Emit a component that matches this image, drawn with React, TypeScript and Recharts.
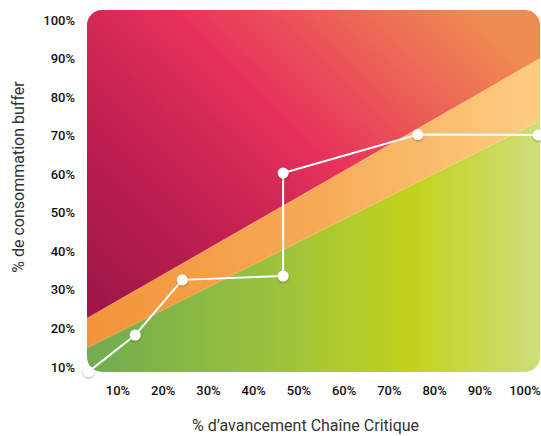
import React from 'react';
import {
  ComposedChart,
  Area,
  Line,
  XAxis,
  YAxis,
  ReferenceArea,
} from 'recharts';

// Axis domains (percent)
const xDomain: [number, number] = [3.14, 103.3];
const yDomain: [number, number] = [8.7, 102.6];

const xTicks = [10, 20, 30, 40, 50, 60, 70, 80, 90, 100];
const yTicks = [10, 20, 30, 40, 50, 60, 70, 80, 90, 100];

// Zone boundaries at the left and right edges of the chart
const zoneX = [3.14, 103.3];
const greenTop = [14.9, 73.8];
const orangeTop = [22.7, 90.1];

// Buffer consumption path
const progress = [3.5, 13.8, 24.2, 46.5, 46.5, 76.3, 102.9];
const consumption = [8.8, 18.3, 32.6, 33.6, 60.3, 70.3, 70.2];

const zoneData = zoneX.map((x, i) => ({
  x,
  green: [yDomain[0], greenTop[i]],
  orange: [greenTop[i], orangeTop[i]],
  red: [orangeTop[i], yDomain[1]],
}));

const pathData = progress.map((x, i) => ({ x, y: consumption[i] }));

const fmt = (v: number) => `${v}%`;

const CornerMask = (props: any) => {
  const { x, y, width, height } = props;
  const r = 15;
  const outer = `M${x},${y}H${x + width}V${y + height}H${x}Z`;
  const inner = `M${x + r},${y}H${x + width - r}A${r},${r} 0 0 1 ${x + width},${y + r}V${y + height - r}A${r},${r} 0 0 1 ${x + width - r},${y + height}H${x + r}A${r},${r} 0 0 1 ${x},${y + height - r}V${y + r}A${r},${r} 0 0 1 ${x + r},${y}Z`;
  return <path d={`${outer}${inner}`} fill="#ffffff" fillRule="evenodd" />;
};

const YLabel = (props: any) => {
  const vb = props.viewBox || {};
  const cx = 18;
  const cy = (vb.y ?? 0) + (vb.height ?? 0) / 2 - 14;
  return (
    <text
      x={cx}
      y={cy}
      transform={`rotate(-90, ${cx}, ${cy})`}
      textAnchor="middle"
      dominantBaseline="central"
      fill="#333"
      fontSize={16}
      fontFamily="Roboto, sans-serif"
    >
      % de consommation buffer
    </text>
  );
};

const tickStyle = { fill: '#111', fontSize: 13, fontWeight: 500, fontFamily: 'Roboto, sans-serif' };

export default function App() {
  return (
    <div style={{ position: 'absolute', left: 0, top: 0, background: '#fff' }}>
      <ComposedChart
        width={541}
        height={436}
        margin={{ top: 10, right: 1, bottom: 0, left: 0 }}
      >
        <defs>
          <linearGradient id="gRed" x1="0" y1="0.9" x2="1" y2="0.2">
            <stop offset="0" stopColor="#9e1747" />
            <stop offset="0.3" stopColor="#c32151" />
            <stop offset="0.55" stopColor="#e6325b" />
            <stop offset="0.8" stopColor="#ec6556" />
            <stop offset="1" stopColor="#ef8d50" />
          </linearGradient>
          <linearGradient id="gOrange" x1="0" y1="0" x2="1" y2="0">
            <stop offset="0" stopColor="#f2943a" />
            <stop offset="0.5" stopColor="#f6aa55" />
            <stop offset="1" stopColor="#fdcd82" />
          </linearGradient>
          <linearGradient id="gGreen" x1="0" y1="0" x2="1" y2="0">
            <stop offset="0" stopColor="#70ac50" />
            <stop offset="0.45" stopColor="#a0c43a" />
            <stop offset="0.72" stopColor="#c2d31c" />
            <stop offset="1" stopColor="#cfdd7c" />
          </linearGradient>
          <filter id="dotShadow" x="-50%" y="-50%" width="200%" height="200%">
            <feDropShadow dx="0" dy="1" stdDeviation="1.2" floodColor="#000" floodOpacity="0.35" />
          </filter>
        </defs>
        <XAxis
          type="number"
          dataKey="x"
          domain={xDomain}
          ticks={xTicks}
          tickFormatter={fmt}
          axisLine={false}
          tickLine={false}
          tickSize={0}
          tickMargin={14}
          height={64}
          tick={tickStyle}
          label={{
            value: "% d’avancement Chaîne Critique",
            position: 'insideBottom',
            offset: 5,
            dx: -8,
            fill: '#333',
            fontSize: 16,
            fontFamily: 'Roboto, sans-serif',
          }}
        />
        <YAxis
          type="number"
          domain={yDomain}
          ticks={yTicks}
          tickFormatter={fmt}
          axisLine={false}
          tickLine={false}
          tickSize={0}
          tickMargin={12}
          width={87}
          tick={tickStyle}
          label={<YLabel />}
        />
        <Area
          data={zoneData}
          dataKey="green"
          type="linear"
          stroke="none"
          fill="url(#gGreen)"
          fillOpacity={1}
          isAnimationActive={false}
          activeDot={false}
        />
        <Area
          data={zoneData}
          dataKey="orange"
          type="linear"
          stroke="none"
          fill="url(#gOrange)"
          fillOpacity={1}
          isAnimationActive={false}
          activeDot={false}
        />
        <Area
          data={zoneData}
          dataKey="red"
          type="linear"
          stroke="none"
          fill="url(#gRed)"
          fillOpacity={1}
          isAnimationActive={false}
          activeDot={false}
        />
        <ReferenceArea
          x1={xDomain[0]}
          x2={xDomain[1]}
          y1={yDomain[0]}
          y2={yDomain[1]}
          shape={<CornerMask />}
          ifOverflow="visible"
          zIndex={300}
        />
        <Line
          data={pathData}
          dataKey="y"
          type="linear"
          stroke="#ffffff"
          strokeWidth={2}
          dot={{ r: 5.5, fill: '#ffffff', stroke: 'none', filter: 'url(#dotShadow)' }}
          activeDot={false}
          isAnimationActive={false}
          zIndex={400}
        />
      </ComposedChart>
    </div>
  );
}
